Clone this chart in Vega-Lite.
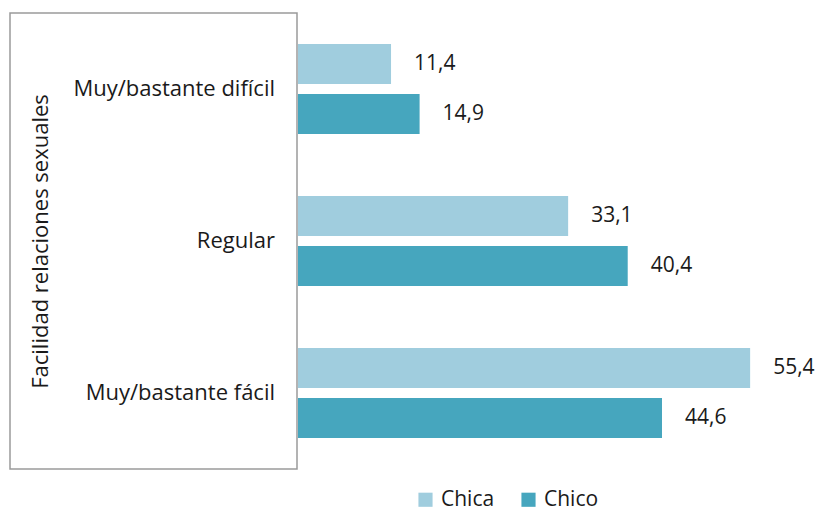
{
  "$schema": "https://vega.github.io/schema/vega-lite/v6.json",
  "padding": {"left": 9, "top": 12, "right": 5, "bottom": 0},
  "background": "white",
  "spacing": 0,
  "config": {
    "font": "Open Sans"
  },
  "data": {
    "values": [
      {"facilidad": "Muy/bastante difícil", "sexo": "Chica", "valor": 11.4},
      {"facilidad": "Muy/bastante difícil", "sexo": "Chico", "valor": 14.9},
      {"facilidad": "Regular", "sexo": "Chica", "valor": 33.1},
      {"facilidad": "Regular", "sexo": "Chico", "valor": 40.4},
      {"facilidad": "Muy/bastante fácil", "sexo": "Chica", "valor": 55.4},
      {"facilidad": "Muy/bastante fácil", "sexo": "Chico", "valor": 44.6}
    ]
  },
  "hconcat": [
    {
      "width": 287,
      "height": 456,
      "view": {"stroke": "#9a9a9a", "strokeWidth": 1.5},
      "transform": [{"filter": "datum.sexo == 'Chica'"}],
      "mark": {"type": "text", "align": "right", "baseline": "middle", "dx": -22, "fontSize": 22, "color": "#1a1a1a"},
      "encoding": {
        "y": {
          "field": "facilidad", "type": "nominal",
          "sort": ["Muy/bastante difícil", "Regular", "Muy/bastante fácil"],
          "scale": {"paddingInner": 0.408, "paddingOuter": 0.204},
          "axis": {
            "labels": false, "ticks": false, "domain": false, "grid": false,
            "title": "Facilidad relaciones sexuales", "titleFontSize": 22, "titleFontWeight": "normal",
            "titleColor": "#1a1a1a", "titleX": 37, "titleBaseline": "alphabetic"
          }
        },
        "x": {"value": "width"},
        "text": {"field": "facilidad", "type": "nominal"}
      }
    },
    {
      "width": 506,
      "height": 456,
      "view": {"stroke": null},
      "layer": [
        {
          "mark": {"type": "bar"},
          "encoding": {
            "y": {
              "field": "facilidad", "type": "nominal",
              "sort": ["Muy/bastante difícil", "Regular", "Muy/bastante fácil"],
              "scale": {"paddingInner": 0.408, "paddingOuter": 0.204},
              "axis": null
            },
            "yOffset": {"field": "sexo", "type": "nominal", "sort": ["Chica", "Chico"], "scale": {"paddingInner": 0.2, "paddingOuter": 0}},
            "x": {"field": "valor", "type": "quantitative", "scale": {"domain": [0, 62], "nice": false}, "axis": null},
            "color": {
              "field": "sexo", "type": "nominal",
              "scale": {"domain": ["Chica", "Chico"], "range": ["#A0CDDE", "#46A6BE"]},
              "legend": {
                "orient": "none", "legendX": 405, "legendY": 476, "direction": "horizontal", "title": null,
                "symbolType": "square", "symbolSize": 200, "symbolStrokeWidth": 0, "labelFontSize": 21,
                "labelColor": "#1a1a1a", "columnPadding": 23, "labelOffset": 5
              }
            }
          }
        },
        {
          "transform": [{"calculate": "replace(format(datum.valor, '.1f'), '.', ',')", "as": "etiqueta"}],
          "mark": {"type": "text", "align": "left", "baseline": "middle", "dx": 23, "fontSize": 21, "color": "#1a1a1a"},
          "encoding": {
            "y": {"field": "facilidad", "type": "nominal", "sort": ["Muy/bastante difícil", "Regular", "Muy/bastante fácil"]},
            "yOffset": {"field": "sexo", "type": "nominal", "sort": ["Chica", "Chico"]},
            "x": {"field": "valor", "type": "quantitative"},
            "text": {"field": "etiqueta", "type": "nominal"}
          }
        }
      ]
    }
  ]
}
